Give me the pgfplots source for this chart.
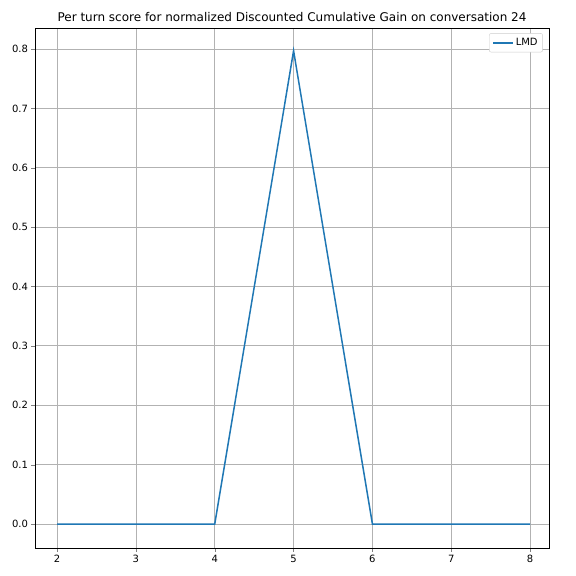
\documentclass[border=0pt]{standalone}
\usepackage{fontspec}
\setmainfont{DejaVu Sans}
\usepackage{pgfplots}
\pgfplotsset{compat=1.18}
\definecolor{tabblue}{HTML}{1F77B4}
\begin{document}
\begin{tikzpicture}
\begin{axis}[
  scale only axis,
  width=514bp, height=520bp,
  xmin=1.72, xmax=8.24,
  ymin=-0.0404, ymax=0.8354,
  xtick={2,3,4,5,6,7,8},
  ytick={0,0.1,0.2,0.3,0.4,0.5,0.6,0.7,0.8},
  yticklabel style={/pgf/number format/.cd,fixed,fixed zerofill,precision=1},
  /pgf/number format/assume math mode=true,
  ticklabel style={font=\fontsize{10bp}{12bp}\selectfont},
  tick align=outside, tick pos=left,
  major tick length=3.5bp,
  grid=major,
  grid style={color=black!30, line width=0.8bp},
  axis line style={line width=0.8bp},
  title={Per turn score for normalized Discounted Cumulative Gain on conversation 24},
  title style={font=\fontsize{12bp}{14bp}\selectfont, yshift=-3bp},
  legend style={font=\fontsize{10bp}{12bp}\selectfont, draw=black!20, rounded corners=2bp, inner xsep=3bp, inner ysep=3bp, at={(0.988,0.99)}, anchor=north east},
  legend image code/.code={\draw[#1] (0bp,0bp) -- (20bp,0bp);},
  legend cell align=left,
]
\addplot[color=tabblue, line width=1.5bp] coordinates {
(2,0) (3,0) (4,0) (5,0.797) (6,0) (7,0) (8,0)
};
\addlegendentry{LMD}
\end{axis}
\path[use as bounding box] (current axis.south west) ++(-35bp,-28bp) rectangle ++(576bp,576bp);
\end{tikzpicture}
\end{document}
